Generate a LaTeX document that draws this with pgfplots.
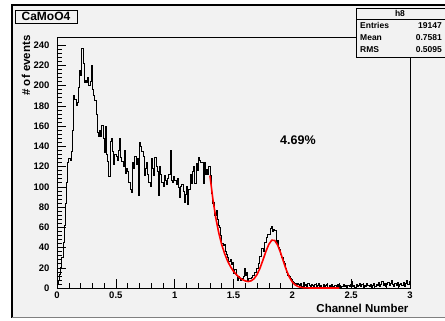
\documentclass[border=0pt]{standalone}
\usepackage{pgfplots}
\pgfplotsset{compat=1.18}
\usepackage{fontspec}
\setmainfont{Liberation Sans}
\definecolor{bg}{RGB}{242,242,242}
\begin{document}
\begin{tikzpicture}[x=1pt,y=1pt]
\useasboundingbox (0,0) rectangle (445,321);
\fill[white] (0,0) rectangle (445,321);
\fill[bg] (12,3) rectangle (445,316);
\draw[black, line width=2pt] (12,3) -- (12,316) -- (445,316);
\draw[gray, line width=1pt] (12,3) -- (445,3);
\begin{axis}[at={(57pt,33pt)}, anchor=south west, scale only axis,
  width=353pt, height=251pt,
  xmin=0, xmax=3, ymin=0, ymax=248, clip=false,
  axis line style={black, line width=0.6pt},
  xtick={0,0.5,1,1.5,2,2.5,3}, xticklabels={0,0.5,1,1.5,2,2.5,3},
  ytick={0,20,...,240},
  minor x tick num=4, minor y tick num=4,
  xtick pos=left, ytick pos=left, tick align=inside,
  major tick length=9pt, minor tick length=5pt,
  tick style={black, line width=0.5pt},
  ticklabel style={font=\fontsize{9.5}{11}\selectfont\bfseries},
  yticklabel style={xshift=-4pt},
  /pgf/number format/assume math mode=true]
\addplot[const plot, black, line width=0.6pt] coordinates {
(0.00,4)(0.01,8)(0.02,14)(0.03,20)(0.04,30)(0.05,45)(0.06,62)(0.07,84)(0.08,104)(0.09,124)
(0.10,128)(0.11,126)(0.12,135)(0.13,156)(0.14,190)(0.15,186)(0.16,181)(0.17,183)(0.18,198)(0.19,215)
(0.20,210)(0.21,237)(0.22,222)(0.23,203)(0.24,205)(0.25,203)(0.26,208)(0.27,200)(0.28,204)(0.29,220)
(0.30,196)(0.31,190)(0.32,185)(0.33,172)(0.34,154)(0.35,150)(0.36,156)(0.37,150)(0.38,161)(0.39,148)
(0.40,134)(0.41,160)(0.42,132)(0.43,125)(0.44,110)(0.45,145)(0.46,148)(0.47,135)(0.48,122)(0.49,132)
(0.50,130)(0.51,126)(0.52,136)(0.53,148)(0.54,129)(0.55,125)(0.56,120)(0.57,136)(0.58,113)(0.59,118)
(0.60,115)(0.61,104)(0.62,98)(0.63,95)(0.64,124)(0.65,118)(0.66,130)(0.67,122)(0.68,128)(0.69,92)
(0.70,144)(0.71,140)(0.72,135)(0.73,130)(0.74,111)(0.75,118)(0.76,124)(0.77,112)(0.78,104)(0.79,100)
(0.80,128)(0.81,118)(0.82,111)(0.83,129)(0.84,120)(0.85,115)(0.86,92)(0.87,120)(0.88,112)(0.89,104)
(0.90,100)(0.91,111)(0.92,106)(0.93,102)(0.94,108)(0.95,112)(0.96,136)(0.97,106)(0.98,104)(0.99,110)
(1.00,106)(1.01,102)(1.02,108)(1.03,99)(1.04,90)(1.05,100)(1.06,102)(1.07,96)(1.08,85)(1.09,93)
(1.10,100)(1.11,83)(1.12,98)(1.13,112)(1.14,103)(1.15,115)(1.16,120)(1.17,103)(1.18,123)(1.19,116)
(1.20,129)(1.21,126)(1.22,124)(1.23,124)(1.24,103)(1.25,124)(1.26,112)(1.27,117)(1.28,112)(1.29,120)
(1.30,111)(1.31,94)(1.32,84)(1.33,85)(1.34,72)(1.35,77)(1.36,68)(1.37,62)(1.38,60)(1.39,52)
(1.40,44)(1.41,42)(1.42,43)(1.43,36)(1.44,33)(1.45,30)(1.46,26)(1.47,28)(1.48,23)(1.49,25)
(1.50,15)(1.51,18)(1.52,13)(1.53,8)(1.54,12)(1.55,10)(1.56,8)(1.57,10)(1.58,12)(1.59,19)
(1.60,13)(1.61,16)(1.62,8)(1.63,10)(1.64,10)(1.65,11)(1.66,13)(1.67,13)(1.68,16)(1.69,19)
(1.70,19)(1.71,24)(1.72,31)(1.73,31)(1.74,39)(1.75,36)(1.76,45)(1.77,45)(1.78,50)(1.79,53)
(1.80,53)(1.81,59)(1.82,61)(1.83,56)(1.84,58)(1.85,57)(1.86,44)(1.87,47)(1.88,40)(1.89,38)
(1.90,33)(1.91,30)(1.92,26)(1.93,24)(1.94,19)(1.95,16)(1.96,13)(1.97,12)(1.98,10)(1.99,8)
(2.00,7)(2.01,6)(2.02,5)(2.03,4)(2.04,5)(2.05,4)(2.06,3)(2.07,5)(2.08,2)(2.09,6)
(2.10,3)(2.11,4)(2.12,2)(2.13,5)(2.14,3)(2.15,2)(2.16,4)(2.17,3)(2.18,1)(2.19,4)
(2.20,2)(2.21,3)(2.22,5)(2.23,2)(2.24,3)(2.25,1)(2.26,4)(2.27,2)(2.28,3)(2.29,4)
(2.30,1)(2.31,3)(2.32,2)(2.33,4)(2.34,2)(2.35,1)(2.36,3)(2.37,2)(2.38,4)(2.39,2)
(2.40,3)(2.41,1)(2.42,2)(2.43,4)(2.44,2)(2.45,3)(2.46,1)(2.47,3)(2.48,2)(2.49,4)
(2.50,7)(2.51,2)(2.52,3)(2.53,1)(2.54,4)(2.55,2)(2.56,3)(2.57,5)(2.58,2)(2.59,4)
(2.60,1)(2.61,3)(2.62,2)(2.63,5)(2.64,3)(2.65,2)(2.66,4)(2.67,1)(2.68,3)(2.69,5)
(2.70,2)(2.71,4)(2.72,3)(2.73,6)(2.74,2)(2.75,4)(2.76,7)(2.77,3)(2.78,5)(2.79,2)
(2.80,4)(2.81,6)(2.82,3)(2.83,5)(2.84,8)(2.85,4)(2.86,2)(2.87,5)(2.88,3)(2.89,6)
(2.90,2)(2.91,4)(2.92,5)(2.93,3)(2.94,6)(2.95,2)(2.96,5)(2.97,8)(2.98,4)(2.99,7)
(3.00,7)};
\addplot[red, line width=1.6pt] coordinates {
(1.30,111)(1.325,87.5)(1.35,69.0)(1.375,54.3)(1.40,42.8)(1.425,33.8)(1.45,26.6)(1.475,21.0)
(1.50,16.5)(1.525,13.1)(1.55,10.4)(1.575,8.3)(1.60,7.0)(1.625,6.4)(1.65,7.1)(1.675,9.2)
(1.70,13.3)(1.725,19.5)(1.75,27.5)(1.775,36.0)(1.80,43.1)(1.825,47.2)(1.85,47.0)(1.875,42.5)
(1.90,34.9)(1.925,26.0)(1.95,17.5)(1.975,10.7)(2.00,5.9)(2.025,3.0)(2.05,1.4)(2.075,0.6)
(2.10,0.2)(2.15,0)(2.40,0)};
\end{axis}
% title box
\fill[bg] (15,298) rectangle (77,311);
\draw[black, line width=0.5pt] (15,298) rectangle (77,311);
\draw[black, line width=1.2pt] (16,297.6) -- (77.6,297.6) -- (77.6,310);
\node[font=\fontsize{12}{14}\selectfont\bfseries] at (46,304.5) {CaMoO4};
% stats box
\fill[bg] (356,264) rectangle (446,313);
\draw[black, line width=0.5pt] (356,264) rectangle (446,313);
\draw[black, line width=1.2pt] (357,263.4) -- (446,263.4);
\draw[black, line width=0.5pt] (356,302) -- (446,302);
\begin{scope}[font=\fontsize{8.5}{10}\selectfont\bfseries]
\node[anchor=base] at (400,304.5) {h8};
\node[anchor=base west, inner sep=0pt] at (360,292.5) {Entries};
\node[anchor=base east, inner sep=0pt] at (442,292.5) {19147};
\node[anchor=base west, inner sep=0pt] at (360,280.5) {Mean};
\node[anchor=base east, inner sep=0pt] at (442,280.5) {0.7581};
\node[anchor=base west, inner sep=0pt] at (360,268.5) {RMS};
\node[anchor=base east, inner sep=0pt] at (442,268.5) {0.5095};
\end{scope}
% labels
\node[rotate=90, anchor=east, font=\fontsize{11.5}{14}\selectfont\bfseries] at (26,289) {\# of events};
\node[anchor=east, font=\fontsize{11.5}{14}\selectfont\bfseries] at (412,13) {Channel Number};
\node[anchor=west, inner sep=0pt, font=\fontsize{12.5}{14}\selectfont\bfseries] at (280,181) {4.69\%};
\end{tikzpicture}
\end{document}
